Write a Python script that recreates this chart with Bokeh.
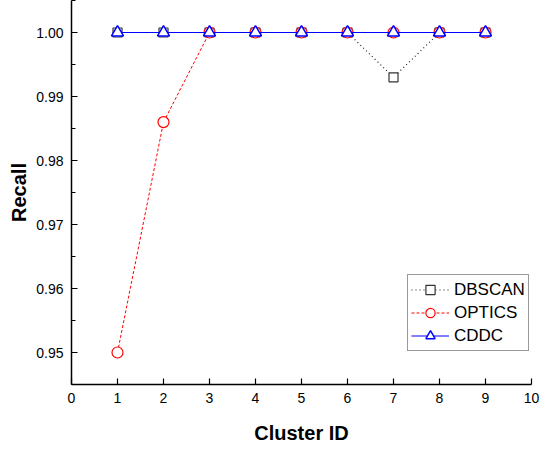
from bokeh.plotting import figure
from bokeh.models import SingleIntervalTicker, Range1d, Legend, PrintfTickFormatter, Title
from bokeh.embed import file_html
from bokeh.resources import INLINE

cluster_ids = [1, 2, 3, 4, 5, 6, 7, 8, 9]
dbscan = [1.0, 1.0, 1.0, 1.0, 1.0, 1.0, 0.993, 1.0, 1.0]
optics = [0.950, 0.986, 1.0, 1.0, 1.0, 1.0, 1.0, 1.0, 1.0]
cddc = [1.0, 1.0, 1.0, 1.0, 1.0, 1.0, 1.0, 1.0, 1.0]

p = figure(width=540, height=446, output_backend="svg", toolbar_location=None,
           x_range=Range1d(0, 10), y_range=Range1d(0.945, 1.005),
           min_border_left=71, min_border_right=9, min_border_top=0, min_border_bottom=54)
p.outline_line_color = None
p.xgrid.grid_line_color = None
p.ygrid.grid_line_color = None

FONT = "Liberation Sans"

l1 = p.line(cluster_ids, dbscan, line_color="#222222", line_dash="1 3", line_width=1.2)
m1 = p.scatter(cluster_ids, dbscan, marker="square", size=9, line_color="#333333", fill_color="white", line_width=1.2)
l2 = p.line(cluster_ids, optics, line_color="red", line_dash="3 2", line_width=1)
m2 = p.scatter(cluster_ids, optics, marker="circle", size=11, line_color="red", fill_color="white", line_width=1.2)
l3 = p.line(cluster_ids, cddc, line_color="blue", line_width=1.2)
m3 = p.scatter(cluster_ids, cddc, marker="triangle", size=12, line_color="blue", fill_color="white", line_width=1.5)

legend = Legend(items=[("DBSCAN", [l1, m1]), ("OPTICS", [l2, m2]), ("CDDC", [l3, m3])],
                location=(336, 33), orientation="vertical")
legend.label_text_font = FONT
legend.label_text_font_size = "17px"
legend.label_text_color = "black"
legend.border_line_color = "#333333"
legend.border_line_width = 1
legend.background_fill_color = "white"
legend.background_fill_alpha = 1
legend.padding = 3
legend.spacing = 0
legend.margin = 0
legend.glyph_width = 38
legend.glyph_height = 23
legend.label_height = 23
legend.label_standoff = 5
p.add_layout(legend, "center")

p.xaxis.ticker = SingleIntervalTicker(interval=1, num_minor_ticks=0)
p.yaxis.ticker = SingleIntervalTicker(interval=0.01, num_minor_ticks=2)
p.yaxis.formatter = PrintfTickFormatter(format="%.2f")

for ax in (p.xaxis[0], p.yaxis[0]):
    ax.axis_line_color = "black"
    ax.axis_line_width = 1.5
    ax.major_tick_in = 6
    ax.major_tick_out = 0
    ax.minor_tick_in = 4
    ax.minor_tick_out = 0
    ax.major_tick_line_width = 1.2
    ax.minor_tick_line_width = 1.2
    ax.major_label_text_font = FONT
    ax.major_label_text_font_size = "14px"
    ax.major_label_text_color = "black"
    ax.axis_label_text_font = FONT
    ax.axis_label_text_font_style = "bold"
    ax.axis_label_text_font_size = "20px"
    ax.axis_label_text_color = "black"

p.xaxis.axis_label = "Cluster ID"
p.xaxis.major_label_standoff = 8
p.xaxis.axis_label_standoff = 16
p.yaxis.major_label_standoff = 8

ytitle = Title(text="Recall", align="center", offset=-13, text_font=FONT,
               text_font_style="bold", text_font_size="20px", text_color="black",
               standoff=8)
p.add_layout(ytitle, "left")

open("out.html", "w").write(file_html(p, INLINE))
